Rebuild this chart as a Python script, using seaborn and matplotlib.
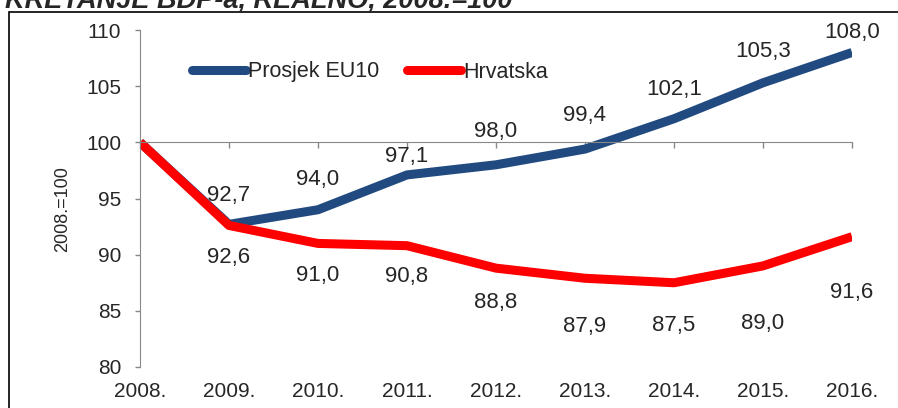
import numpy as np
import pandas as pd
import matplotlib
matplotlib.use("Agg")
import matplotlib.pyplot as plt
import seaborn as sns
from matplotlib.patches import Rectangle

# data
years = ["2008.", "2009.", "2010.", "2011.", "2012.", "2013.", "2014.", "2015.", "2016."]
eu10 = [100.0, 92.7, 94.0, 97.1, 98.0, 99.4, 102.1, 105.3, 108.0]
hrvatska = [100.0, 92.6, 91.0, 90.8, 88.8, 87.9, 87.5, 89.0, 91.6]
series_names = ["Prosjek EU10", "Hrvatska"]
title = "KRETANJE BDP-a, REALNO, 2008.=100"
ylabel = "2008.=100"

# label offsets (pixels) as placed in the original
eu10_off = [None, 29, 30, 18, 33, 34, 29, 31, 20]
hr_off = [None, -32, -32, -31, -34, -48, -43, -58, -56]

df = pd.DataFrame({
    "x": list(range(len(years))) * 2,
    "value": eu10 + hrvatska,
    "serija": [series_names[0]] * len(years) + [series_names[1]] * len(years),
})

sns.set_style("white")
plt.rcParams["font.family"] = ["Liberation Sans", "DejaVu Sans"]

fig = plt.figure(figsize=(8.98, 4.08), dpi=100)
ax = fig.add_axes([140 / 898, 1 - 367 / 408, 712 / 898, 337 / 408])

colors = {series_names[0]: "#214A80", series_names[1]: "#FF0000"}
sns.lineplot(data=df, x="x", y="value", hue="serija", palette=colors,
             linewidth=6.5, ax=ax, legend=True)
for ln in ax.lines:
    ln.set_solid_capstyle("butt")
    ln.set_solid_joinstyle("round")

ax.set_xlim(0, len(years) - 1)
ax.set_ylim(80, 110)
ax.set_yticks(np.arange(80, 111, 5))
ax.tick_params(axis="y", left=True, labelsize=15, length=3.5, width=1,
               color="#888888", pad=10)

# horizontal axis crosses at 100, labels stay at the bottom
for s in ["top", "right"]:
    ax.spines[s].set_visible(False)
ax.spines["left"].set_color("#888888")
ax.spines["bottom"].set_color("#888888")
ax.spines["bottom"].set_position(("data", 100))
ax.set_xticks(range(len(years)))
ax.tick_params(axis="x", bottom=True, direction="out", length=4.3, width=1,
               color="#888888", labelbottom=False)
sec = ax.secondary_xaxis(0)
sec.set_xticks(range(len(years)))
sec.set_xticklabels(years)
sec.tick_params(length=0, labelsize=15, pad=11)
sec.spines["bottom"].set_visible(False)

ax.set_xlabel("")
ax.set_ylabel(ylabel, fontsize=13)
ax.yaxis.set_label_coords(-0.097, 0.469)

# data labels
for vals, offs in [(eu10, eu10_off), (hrvatska, hr_off)]:
    for i, (v, o) in enumerate(zip(vals, offs)):
        if o is None:
            continue
        ax.annotate(f"{v:.1f}".replace(".", ","), (i, v),
                    xytext=(0, o * 72 / 100), textcoords="offset points",
                    ha="center", va="center", fontsize=16)

leg = ax.legend(loc="center left", bbox_to_anchor=(192 / 898, 1 - 72 / 408),
                bbox_transform=fig.transFigure, ncol=2, frameon=False,
                fontsize=15.5, handlelength=2.5, handletextpad=0.1,
                columnspacing=1.3, borderaxespad=0, borderpad=0)
for h in leg.get_lines():
    h.set_linewidth(6.5)
    h.set_solid_capstyle("round")

# frame and cut-off title
fig.patches.append(Rectangle((8.5 / 898, -0.1), 0.999, 1.1 - 12 / 408,
                             transform=fig.transFigure, fill=False,
                             edgecolor="black", linewidth=1.2))
fig.text(5 / 898, 1 - 7 / 408, title, fontsize=19.5, fontweight="bold",
         fontstyle="italic", va="baseline", ha="left")

fig.savefig("out.png", dpi=100)
